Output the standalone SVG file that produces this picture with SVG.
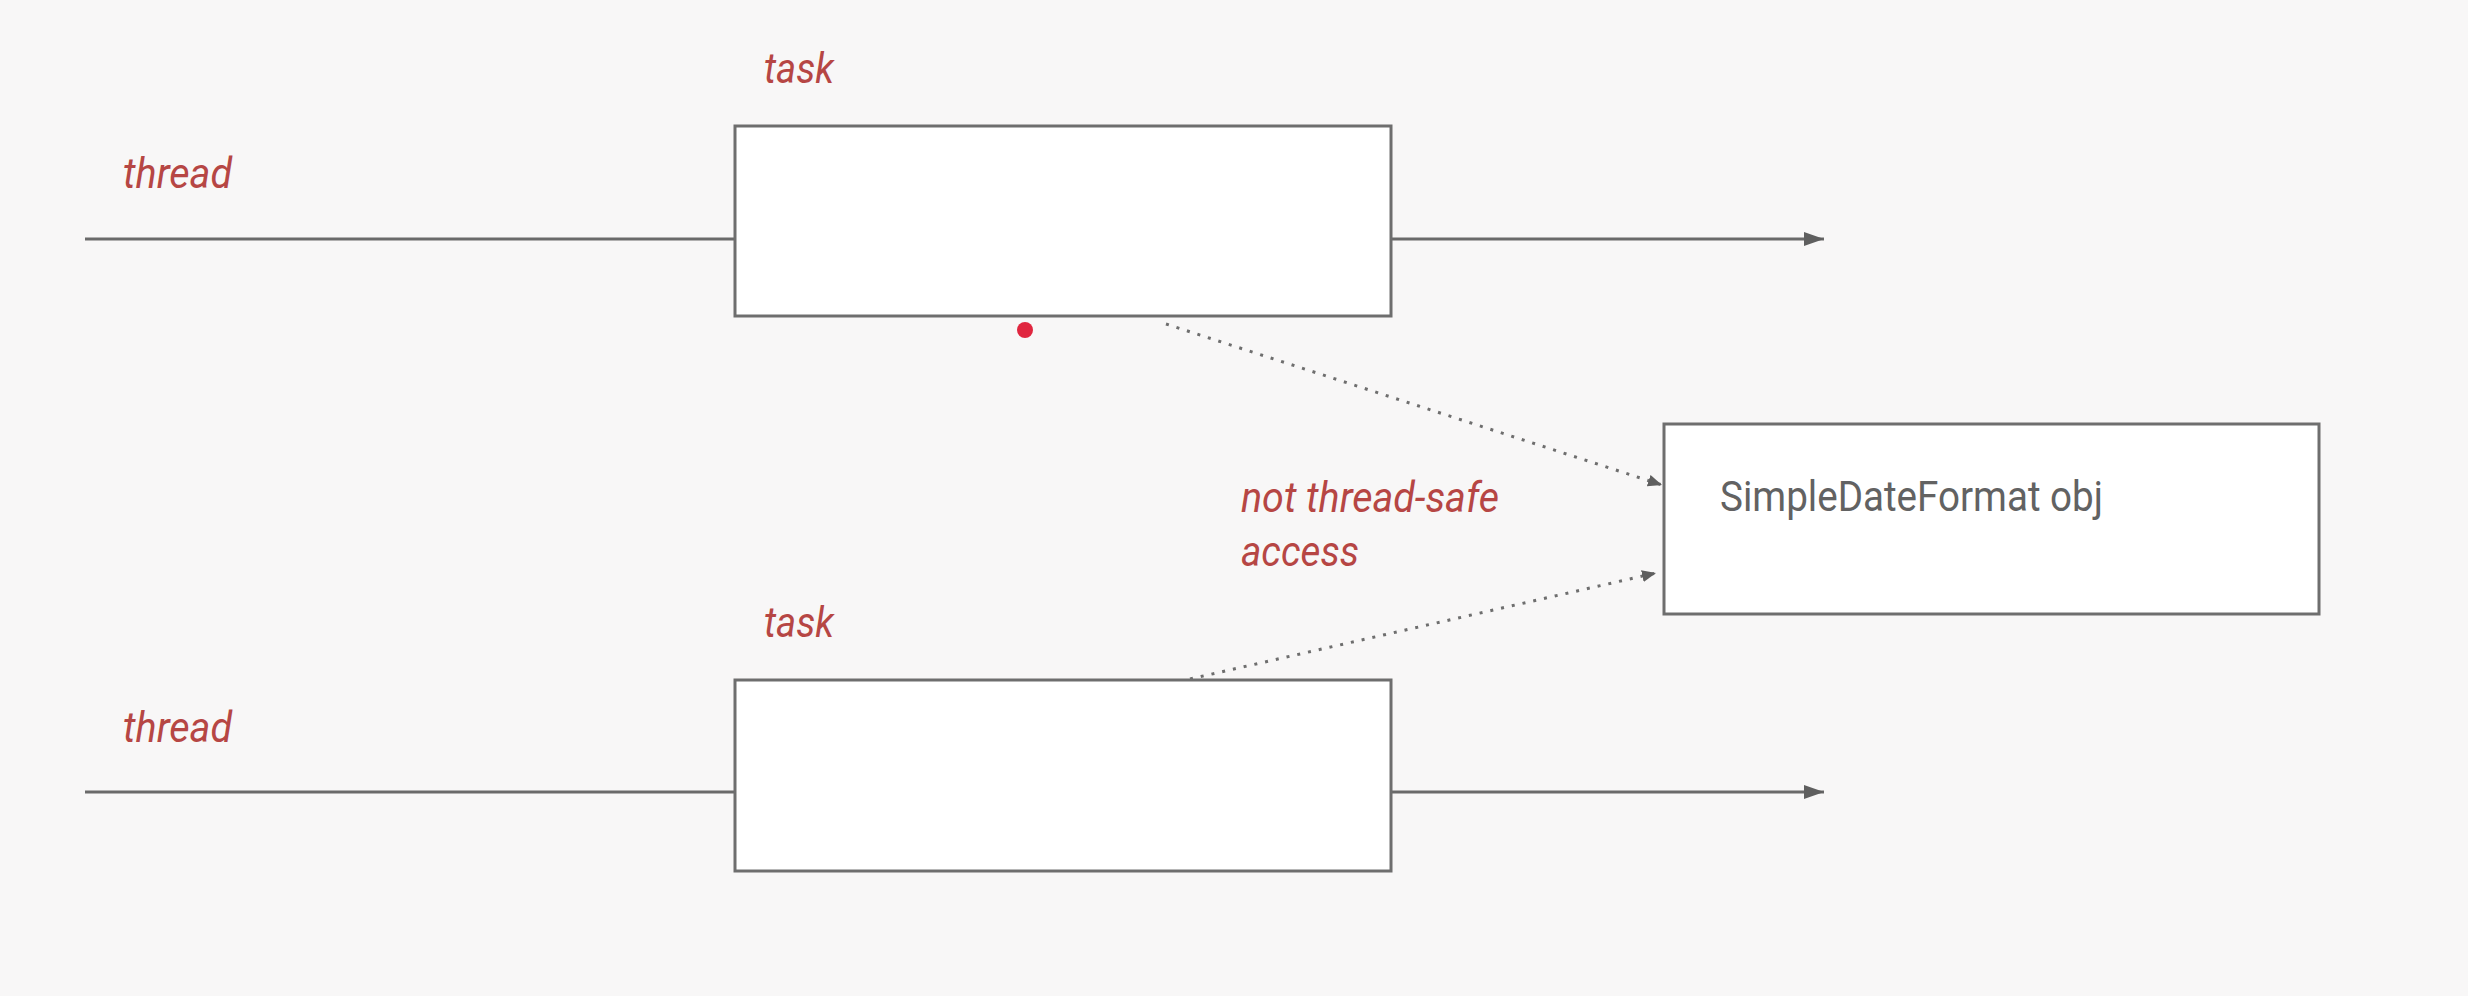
<svg xmlns="http://www.w3.org/2000/svg" width="2468" height="996" viewBox="0 0 2468 996">
  <style>
    .box { fill: #ffffff; stroke: #6e6e6e; stroke-width: 3; }
    .line { stroke: #6a6a6a; stroke-width: 3; fill: none; }
    .dots { stroke: #6e6e6e; stroke-width: 3; fill: none; stroke-dasharray: 3 8; }
    .lbl { font-family: Roboto, "Liberation Sans", sans-serif; font-style: italic; font-size: 43px; fill: #b64644; }
    .obj { font-family: Roboto, "Liberation Sans", sans-serif; font-size: 43px; fill: #626262; }
  </style>
  <defs>
    <marker id="arrow" viewBox="0 0 10 10" refX="10" refY="5" markerUnits="userSpaceOnUse" markerWidth="20" markerHeight="14" orient="auto" preserveAspectRatio="none">
      <path d="M0,0 L10,5 L0,10 z" fill="#5f5f5f"/>
    </marker>
    <marker id="arrowS" viewBox="0 0 10 10" refX="10" refY="5" markerUnits="userSpaceOnUse" markerWidth="14" markerHeight="12" orient="auto" preserveAspectRatio="none">
      <path d="M0,0 L10,5 L0,10 z" fill="#5f5f5f"/>
    </marker>
  </defs>
  <rect width="2468" height="996" fill="#f8f7f7"/>

  <g id="connectors">
    <line class="line" x1="85" y1="239" x2="735" y2="239"/>
    <line class="line" x1="1391" y1="239" x2="1824" y2="239" marker-end="url(#arrow)"/>
    <line class="line" x1="85" y1="792" x2="735" y2="792"/>
    <line class="line" x1="1391" y1="792" x2="1824" y2="792" marker-end="url(#arrow)"/>
    <line class="dots" x1="1166" y1="324" x2="1662" y2="485" marker-end="url(#arrowS)"/>
    <line class="dots" x1="1190" y1="679" x2="1656" y2="573" marker-end="url(#arrowS)"/>
  </g>

  <g id="task-top">
    <rect class="box" x="735" y="126" width="656" height="190"/>
    <text class="lbl" x="764" y="83" textLength="70" lengthAdjust="spacingAndGlyphs">task</text>
  </g>
  <g id="task-bottom">
    <rect class="box" x="735" y="680" width="656" height="191"/>
    <text class="lbl" x="764" y="637" textLength="70" lengthAdjust="spacingAndGlyphs">task</text>
  </g>
  <g id="thread-top">
    <text class="lbl" x="123" y="188" textLength="109" lengthAdjust="spacingAndGlyphs">thread</text>
  </g>
  <g id="thread-bottom">
    <text class="lbl" x="123" y="742" textLength="109" lengthAdjust="spacingAndGlyphs">thread</text>
  </g>
  <g id="sdf-obj">
    <rect class="box" x="1664" y="424" width="655" height="190"/>
    <text class="obj" x="1720" y="511" textLength="383" lengthAdjust="spacingAndGlyphs">SimpleDateFormat obj</text>
  </g>
  <g id="note">
    <text class="lbl" x="1241" y="512" textLength="258" lengthAdjust="spacingAndGlyphs">not thread-safe</text>
    <text class="lbl" x="1241" y="566" textLength="118" lengthAdjust="spacingAndGlyphs">access</text>
  </g>
  <g id="marker-dot">
    <circle cx="1025" cy="330" r="8" fill="#e0263f"/>
  </g>
</svg>
